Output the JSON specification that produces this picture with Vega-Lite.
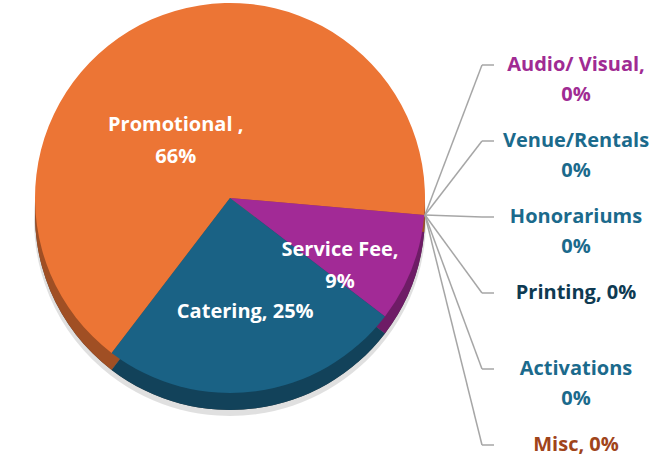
{
  "$schema": "https://vega.github.io/schema/vega-lite/v6.json",
  "width": 661,
  "height": 459,
  "autosize": {"type": "fit", "contains": "padding"},
  "padding": 0,
  "background": "white",
  "config": {"view": {"stroke": null}},
  "data": {
    "values": [
      {"category": "Promotional", "value": 66, "ord": 0, "label": "Promotional ,\n66%"},
      {"category": "Audio/ Visual", "value": 0, "ord": 1, "label": "Audio/ Visual,\n0%"},
      {"category": "Venue/Rentals", "value": 0, "ord": 2, "label": "Venue/Rentals\n0%"},
      {"category": "Honorariums", "value": 0, "ord": 3, "label": "Honorariums\n0%"},
      {"category": "Printing", "value": 0, "ord": 4, "label": "Printing, 0%"},
      {"category": "Activations", "value": 0, "ord": 5, "label": "Activations\n0%"},
      {"category": "Misc", "value": 0, "ord": 6, "label": "Misc, 0%"},
      {"category": "Service Fee", "value": 9, "ord": 7, "label": "Service Fee,\n9%"},
      {"category": "Catering", "value": 25, "ord": 8, "label": "Catering, 25%"}
    ]
  },
  "encoding": {
    "theta": {"field": "value", "type": "quantitative", "stack": true, "scale": {"range": [-2.489, 3.794]}},
    "order": {"field": "ord", "type": "quantitative"},
    "color": {
      "field": "category",
      "type": "nominal",
      "scale": {
        "domain": ["Promotional", "Audio/ Visual", "Venue/Rentals", "Honorariums", "Printing", "Activations", "Misc", "Service Fee", "Catering"],
        "range": ["#EC7535", "#A02B93", "#1B6A8C", "#1B6A8C", "#0E3A52", "#1B6A8C", "#A0441A", "#A22A96", "#1A6285"]
      },
      "legend": null
    }
  },
  "layer": [
    {"mark": {"type": "arc", "x": 230, "y": 220, "radius": 196, "opacity": 0.12}, "encoding": {"color": {"value": "#000000"}}},
    {"mark": {"type": "arc", "x": 230, "y": 215, "radius": 195}, "encoding": {"color": {"value": "#000000"}}},
    {"mark": {"type": "arc", "x": 230, "y": 215, "radius": 195, "opacity": 0.68}},
    {"mark": {"type": "arc", "x": 230, "y": 198, "radius": 195}},
    {
      "mark": {"type": "text", "x": 230, "y": 198, "radius": 75, "dx": -24, "dy": -4, "font": "Open Sans", "fontWeight": "bold", "fontSize": 20, "lineBreak": "\n", "lineHeight": 32},
      "encoding": {
        "text": {"condition": {"test": "datum.category === 'Promotional'", "field": "label"}, "value": ""},
        "color": {"value": "white"}
      }
    },
    {
      "mark": {"type": "text", "x": 230, "y": 198, "radius": 118, "dy": 9, "font": "Open Sans", "fontWeight": "bold", "fontSize": 20, "lineBreak": "\n", "lineHeight": 32},
      "encoding": {
        "text": {"condition": {"test": "datum.category === 'Service Fee'", "field": "label"}, "value": ""},
        "color": {"value": "white"}
      }
    },
    {
      "mark": {"type": "text", "x": 230, "y": 198, "radius": 115, "font": "Open Sans", "fontWeight": "bold", "fontSize": 20, "lineBreak": "\n", "lineHeight": 32},
      "encoding": {
        "text": {"condition": {"test": "datum.category === 'Catering'", "field": "label"}, "value": ""},
        "color": {"value": "white"}
      }
    },
    {
      "transform": [{"filter": "datum.value === 0"}],
      "mark": {"type": "rule", "strokeWidth": 1.5},
      "encoding": {
        "theta": null,
        "order": null,
        "y": {"field": "category", "type": "nominal", "sort": {"field": "ord"}, "scale": {"type": "point", "range": [65, 445], "padding": 0}, "axis": null},
        "x": {"value": 482},
        "x2": {"value": 425},
        "y2": {"value": 215},
        "color": {"value": "#A6A6A6"}
      }
    },
    {
      "transform": [{"filter": "datum.value === 0"}],
      "mark": {"type": "rule", "strokeWidth": 1.5},
      "encoding": {
        "theta": null,
        "order": null,
        "y": {"field": "category", "type": "nominal", "sort": {"field": "ord"}, "axis": null},
        "x": {"value": 482},
        "x2": {"value": 494},
        "color": {"value": "#A6A6A6"}
      }
    },
    {
      "transform": [{"filter": "datum.value === 0"}],
      "mark": {"type": "text", "x": 576, "align": "center", "baseline": "middle", "font": "Open Sans", "fontWeight": "bold", "fontSize": 20, "lineBreak": "\n", "lineHeight": 30},
      "encoding": {
        "theta": null,
        "order": null,
        "y": {"field": "category", "type": "nominal", "sort": {"field": "ord"}, "axis": null},
        "text": {"field": "label"}
      }
    }
  ]
}
